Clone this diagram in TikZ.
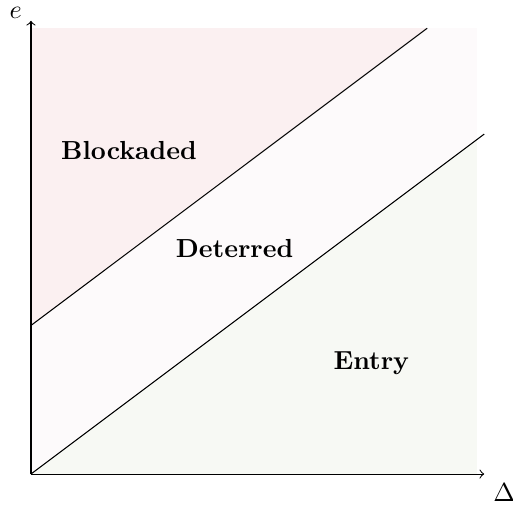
\documentclass[tikz,border=0pt]{standalone}
\usepackage{amssymb}
\usetikzlibrary{calc}
\definecolor{blockcol}{RGB}{251,240,241}
\definecolor{detercol}{RGB}{253,250,251}
\definecolor{entrycol}{RGB}{247,249,244}
\begin{document}
\begin{tikzpicture}
        \tikzset{region/.style={font=\bfseries}}
        \useasboundingbox (-0.417,-0.538) rectangle (6.474,6.380);
        % regions
        \fill[blockcol] (0,2)--(0,6)--(5.333,6)--cycle;
        \fill[detercol] (0,0)--(0,2)--(5.333,6)--(6,6)--(6,4.5)--cycle;
        \fill[entrycol] (0,0)--(6,4.5)--(6,0)--cycle;
        % axes
        \coordinate (O) at (0,0);
        \coordinate (xend) at (6.1,0);
        \coordinate (yend) at (0,6.1);
        \draw[->] (O)--(xend) node[below right] (dlabel) {$\Delta$};
        \draw[->] (O)--(yend) node[above left,inner sep=0.5pt,xshift=-2.8pt] (elabel) {$e$};
        % boundaries
        \coordinate (upA) at (0,2);
        \coordinate (upB) at (5.333,6);
        \coordinate (loB) at (6.1,4.575);
        \draw (upA)--(upB);
        \draw (O)--(loB);
        \node[region] (blockaded) at (1.32,4.35) {Blockaded};
        \node[region] (deterred) at (2.74,3.03) {Deterred};
        \node[region] (entry) at (4.58,1.49) {Entry};
    \end{tikzpicture}
\end{document}
